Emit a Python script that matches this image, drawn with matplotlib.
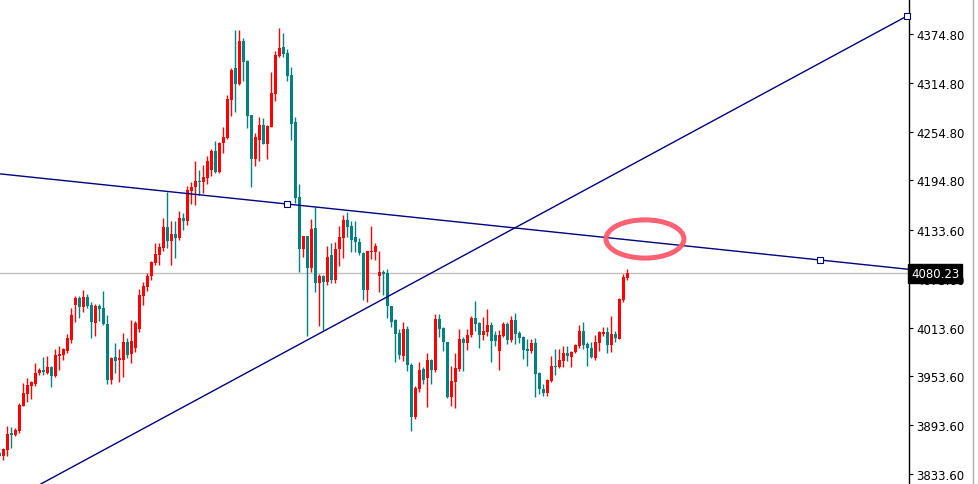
import numpy as np
import matplotlib
matplotlib.use("Agg")
import matplotlib.pyplot as plt
from matplotlib.patches import Ellipse

# candle data (index -1 is the half-cut bar at the left edge)
opens = [3859.4, 3855.4, 3863.5, 3884.0, 3881.9, 3886.1, 3917.6, 3932.0, 3942.2, 3944.7,
         3957.5, 3961.5, 3958.2, 3965.6, 3953.8, 3979.1, 3980.0, 3985.3, 3998.8, 4041.5,
         4050.4, 4039.0, 4051.7, 4041.5, 4019.7, 4040.6, 4037.8, 4018.1, 3949.6, 3977.9,
         3973.5, 3974.2, 3996.3, 3981.2, 3989.0, 4012.0, 4052.9, 4064.0, 4077.5, 4092.8,
         4103.3, 4111.6, 4137.8, 4120.6, 4128.8, 4123.9, 4148.5, 4144.4, 4182.1, 4186.2,
         4193.1, 4192.4, 4197.7, 4207.9, 4231.3, 4204.7, 4240.4, 4246.5, 4294.0, 4332.6,
         4313.3, 4366.2, 4342.0, 4275.2, 4221.1, 4244.4, 4262.9, 4239.5, 4260.8, 4301.0,
         4348.1, 4358.4, 4351.4, 4324.4, 4266.2, 4173.9, 4110.4, 4126.0, 4087.0, 4136.2,
         4068.5, 4076.8, 4070.1, 4103.3, 4072.6, 4110.4, 4123.9, 4146.0, 4139.0, 4125.5,
         4119.3, 4105.4, 4060.3, 4107.0, 4107.0, 4077.5, 4081.7, 4080.5, 4040.6, 4023.0,
         4007.0, 3979.1, 4012.0, 3967.7, 3903.3, 3938.2, 3962.8, 3952.1, 3973.8, 3961.5,
         4024.3, 4013.2, 3996.3, 3928.7, 3947.1, 3962.8, 3999.7, 3994.7, 4004.9, 4025.5,
         4019.3, 4004.6, 4008.6, 4016.9, 4004.6, 3985.3, 4003.7, 4018.1, 3998.4, 4023.0,
         4007.0, 4001.7, 3987.4, 3985.3, 3994.4, 3957.5, 3938.2, 3932.9, 3948.0, 3966.1,
         3964.8, 3973.0, 3982.4, 3977.9, 3983.3, 3991.4, 4009.9, 3993.5, 3988.6, 3976.3,
         3994.7, 4005.8, 4007.9, 3992.6, 4005.8, 3999.7, 4048.0, 4074.7]
highs = [3861.9, 3866.0, 3893.0, 3891.4, 3890.2, 3920.9, 3945.5, 3951.3, 3948.4, 3970.1,
         3964.0, 3977.5, 3978.4, 3966.8, 3987.0, 3990.7, 3988.6, 4005.8, 4037.4, 4052.9,
         4052.2, 4060.3, 4055.4, 4044.8, 4043.1, 4043.1, 4059.1, 4029.2, 3977.5, 3994.7,
         3987.4, 4007.0, 4000.5, 4022.7, 4022.2, 4061.2, 4070.1, 4080.8, 4096.0, 4117.7,
         4117.7, 4148.5, 4180.8, 4145.2, 4145.2, 4156.7, 4154.6, 4188.2, 4192.4, 4219.0,
         4207.9, 4214.0, 4225.1, 4233.4, 4243.6, 4242.3, 4260.0, 4299.8, 4332.6, 4379.7,
         4379.7, 4369.5, 4343.2, 4275.2, 4252.7, 4272.3, 4271.1, 4262.9, 4328.4, 4354.3,
         4381.8, 4376.0, 4356.4, 4333.8, 4272.3, 4190.3, 4126.7, 4126.0, 4147.3, 4161.6,
         4079.6, 4078.4, 4114.4, 4117.7, 4118.6, 4139.0, 4152.5, 4156.2, 4144.4, 4144.4,
         4123.9, 4106.3, 4107.9, 4139.0, 4117.7, 4108.3, 4084.9, 4085.8, 4040.6, 4024.3,
         4012.0, 4020.2, 4015.3, 3970.1, 3941.5, 3971.0, 3964.8, 3982.4, 3975.1, 4030.4,
         4030.4, 4014.0, 3996.3, 3966.1, 3982.4, 4012.0, 4002.5, 4012.0, 4028.3, 4046.4,
         4020.2, 4027.1, 4036.5, 4020.2, 4009.9, 4010.7, 4020.2, 4020.2, 4028.3, 4031.6,
         4009.1, 4003.7, 3999.7, 3999.7, 4000.5, 3958.7, 3944.3, 3950.5, 3979.1, 3987.4,
         3987.4, 3990.7, 3990.7, 3985.3, 3993.5, 4016.9, 4020.9, 3995.6, 3995.6, 4004.6,
         4009.9, 4014.0, 4014.0, 4027.6, 4009.9, 4049.7, 4079.6, 4085.8]
lows = [3854.5, 3851.2, 3855.4, 3866.0, 3880.7, 3884.0, 3916.9, 3922.5, 3925.9, 3942.2,
        3955.7, 3955.4, 3956.6, 3941.0, 3952.5, 3961.9, 3974.2, 3982.4, 3994.7, 4020.9,
        4025.9, 4032.5, 4038.2, 4001.2, 4003.3, 4021.8, 4016.9, 3944.3, 3944.3, 3957.8,
        3947.1, 3952.5, 3975.9, 3970.1, 3984.0, 4007.9, 4041.8, 4058.7, 4072.2, 4091.0,
        4091.0, 4108.3, 4111.2, 4091.0, 4098.9, 4121.8, 4134.1, 4139.9, 4165.7, 4164.5,
        4176.8, 4179.2, 4190.3, 4200.0, 4203.8, 4203.8, 4228.4, 4245.7, 4274.3, 4278.5,
        4312.4, 4316.6, 4259.2, 4187.0, 4212.8, 4219.0, 4239.5, 4221.1, 4260.0, 4292.8,
        4346.1, 4346.1, 4317.4, 4244.8, 4166.9, 4082.4, 4100.1, 4003.7, 4081.7, 4057.1,
        4015.3, 4011.1, 4066.1, 4068.5, 4068.5, 4089.8, 4099.3, 4125.5, 4107.0, 4107.0,
        4103.3, 4048.0, 4044.8, 4098.1, 4097.2, 4057.8, 4053.8, 4025.1, 4014.0, 3971.7,
        3975.1, 3973.0, 3960.7, 3886.9, 3901.3, 3934.8, 3944.3, 3915.6, 3944.3, 3958.7,
        4001.7, 3985.3, 3927.1, 3916.9, 3914.8, 3960.7, 3960.7, 3986.5, 4002.5, 4009.9,
        3988.6, 3998.8, 4003.7, 3971.7, 3991.4, 3961.9, 4002.5, 3993.5, 3995.6, 3993.5,
        3994.7, 3975.1, 3966.8, 3982.1, 3928.7, 3932.0, 3929.9, 3929.9, 3947.1, 3955.4,
        3963.6, 3964.8, 3973.0, 3964.8, 3982.4, 3988.2, 3987.4, 3966.1, 3976.3, 3974.2,
        3985.3, 4003.0, 3982.4, 3983.3, 3995.6, 3999.7, 4044.8, 4072.6]
closes = [3855.7, 3864.4, 3882.8, 3881.9, 3887.7, 3918.8, 3933.2, 3943.1, 3946.4, 3957.8,
          3961.5, 3958.7, 3965.6, 3954.5, 3980.0, 3981.6, 3987.4, 4000.9, 4029.2, 4050.4,
          4038.6, 4051.7, 4040.6, 4020.2, 4040.2, 4036.5, 4018.1, 3949.6, 3975.9, 3973.0,
          3975.9, 3996.3, 3980.3, 3996.8, 4019.3, 4054.1, 4065.2, 4077.5, 4094.0, 4104.2,
          4113.2, 4137.8, 4120.6, 4128.8, 4123.9, 4148.5, 4144.4, 4183.3, 4186.2, 4194.4,
          4192.4, 4199.3, 4219.0, 4230.9, 4205.4, 4240.7, 4248.5, 4294.9, 4330.9, 4313.3,
          4366.2, 4340.7, 4274.3, 4221.1, 4248.5, 4262.9, 4239.5, 4261.3, 4302.2, 4349.0,
          4357.6, 4350.2, 4323.5, 4264.1, 4173.1, 4110.4, 4126.0, 4087.0, 4135.0, 4068.5,
          4076.8, 4070.1, 4100.1, 4072.6, 4110.4, 4125.5, 4146.0, 4137.8, 4121.4, 4119.3,
          4105.1, 4060.3, 4107.9, 4107.9, 4114.0, 4081.7, 4079.6, 4039.9, 4020.9, 4005.8,
          3980.3, 4012.0, 3967.7, 3903.3, 3939.0, 3961.9, 3949.6, 3973.8, 3961.9, 4024.3,
          4012.0, 3995.6, 3927.9, 3948.4, 3963.6, 3999.7, 3994.7, 4004.9, 4025.5, 4018.1,
          4004.6, 4009.9, 4016.9, 3997.6, 3997.6, 4004.6, 4018.1, 3998.4, 4023.0, 4005.8,
          4000.9, 3986.5, 3985.3, 3994.4, 3956.6, 3938.2, 3932.9, 3949.2, 3966.1, 3964.8,
          3974.2, 3982.4, 3979.1, 3984.0, 3992.3, 4009.9, 3992.6, 3988.2, 3977.1, 3995.6,
          4007.9, 4007.9, 3992.6, 4005.8, 4000.9, 4048.9, 4075.5, 4080.23]

ytick_vals = [4374.80, 4314.80, 4254.80, 4194.80, 4133.60, 4073.60, 4013.60, 3953.60, 3893.60, 3833.60]
last_price = 4080.23

# trend lines: (bar index, price) anchor pairs
trend_down = [(70.9, 4165.7), (204.2, 4096.8)]
trend_up = [(11.7, 3827.5), (225.9, 4396.9)]

o = np.array(opens); h = np.array(highs); l = np.array(lows); c = np.array(closes)
x = np.arange(len(o)) - 1
up = c >= o
cols = np.where(up, '#ff0000', '#008080')

fig = plt.figure(figsize=(9.79, 4.85), dpi=100)
ax = fig.add_axes([0, 0, 909 / 979, 1])

ax.vlines(x, l, h, colors=cols, linewidth=1.0)
body_lo = np.minimum(o, c)
body_h = np.maximum(np.abs(c - o), 1.2)
ax.bar(x, body_h, bottom=body_lo, width=0.75, color=cols, linewidth=0)

ax.axhline(last_price, color='#c0c0c0', linewidth=1.0, zorder=0)

for pts in (trend_down, trend_up):
    ax.axline(pts[0], pts[1], color='#000080', linewidth=1.0)
for px, py in trend_down + trend_up[1:]:
    ax.plot(px, py, 's', ms=4, mfc='white', mec='#000080', mew=0.8, clip_on=False, zorder=5)

ell = Ellipse((160.4, 4122.7), 19.5, 47.0, fill=False, edgecolor='#fe5a6a',
              linewidth=3.6, alpha=0.95, zorder=6)
ax.add_patch(ell)

ax.set_xlim(-0.825, 226.4)
ax.set_ylim(3821.3, 4417.85)

for s in ('top', 'left', 'bottom'):
    ax.spines[s].set_visible(False)
ax.spines['right'].set_color('black')
ax.spines['right'].set_linewidth(1.0)
ax.set_xticks([])
ax.yaxis.tick_right()
ax.set_yticks(ytick_vals)
ax.set_yticklabels(['%.2f' % v for v in ytick_vals])
ax.tick_params(axis='y', direction='out', length=3, width=0.8, pad=2, labelsize=8.5)

ax.annotate('%.2f' % last_price, xy=(1.0, last_price), xycoords=('axes fraction', 'data'),
            xytext=(1.5, 0), textcoords='offset points', ha='left', va='center',
            fontsize=8.5, color='white', annotation_clip=False, zorder=10,
            bbox=dict(boxstyle='square,pad=0.22', fc='black', ec='black'))

fig.add_artist(plt.Line2D([973 / 979, 973 / 979], [0, 1], color='#b0b0b0', linewidth=1.0))

fig.savefig('out.png', dpi=100, facecolor='white')
